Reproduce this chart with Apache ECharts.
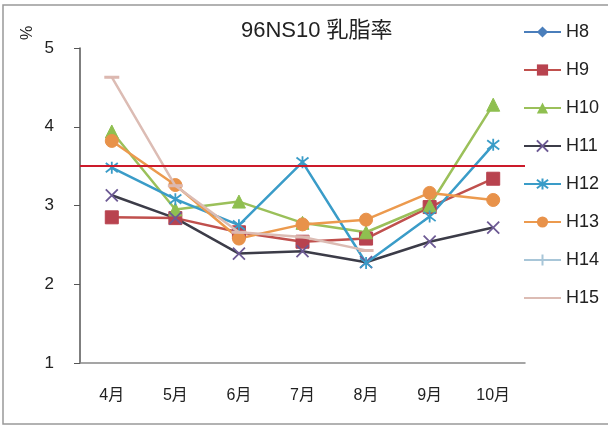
<!DOCTYPE html>
<html><head><meta charset="utf-8">
<script src="https://cdn.jsdelivr.net/npm/echarts@6/dist/echarts.min.js"></script>
<style>html,body{margin:0;padding:0;background:#fff}#c{width:608px;height:430px}</style>
</head><body><div id="c"></div>
<script>
var categories = ['4月','5月','6月','7月','8月','9月','10月'];
var seriesNames = ['H8','H9','H10','H11','H12','H13','H14','H15'];
var H8  = [];
var H9  = [2.85, 2.84, 2.66, 2.54, 2.58, 2.98, 3.34];
var H10 = [3.94, 2.95, 3.05, 2.78, 2.66, 3.00, 4.28];
var H11 = [3.13, 2.84, 2.39, 2.42, 2.28, 2.54, 2.72];
var H12 = [3.48, 3.08, 2.75, 3.55, 2.27, 2.86, 3.77];
var H13 = [3.82, 3.26, 2.58, 2.76, 2.82, 3.16, 3.07];
var H14 = [];
var H15 = [4.63, 3.25, 2.66, 2.60, 2.43, null, null];
var threshold = 3.5;
var yTicks = [1, 2, 3, 4, 5];

var font = '"Liberation Sans","Noto Sans CJK JP",sans-serif';
var X = 'path://M0,0L10,10M10,0L0,10';
var AST = 'path://M0,0L10,10M10,0L0,10M5,-1.5L5,11.5';
var PLUS = 'path://M5,0L5,10M0,5L10,5';
var DASH = 'path://M0,0L10,0L10,2L0,2Z';

function mk(name, data, color, lineColor, symbol, size, stroke) {
  return {
    name: name, type: 'line', data: data,
    symbol: symbol, symbolSize: size, showSymbol: true,
    lineStyle: {color: lineColor, width: 2.5},
    itemStyle: stroke ? {color: 'rgba(0,0,0,0)', borderColor: color, borderWidth: 1.8} : {color: color, borderColor: color},
    z: 3, animation: false
  };
}

var series = [
  mk('H8', H8, '#4a7ebb', '#4a7ebb', 'diamond', 11, false),
  mk('H9', H9, '#b8434f', '#c0504d', 'rect', 13, false),
  mk('H10', H10, '#8fbf50', '#9bc05a', 'triangle', 13, false),
  mk('H11', H11, '#6d5a94', '#3c3c48', X, 12, true),
  mk('H12', H12, '#3a9cc8', '#3a9cc8', AST, 12, true),
  mk('H13', H13, '#e8924a', '#ec9a4e', 'circle', 13, false),
  mk('H14', H14, '#a8c6d8', '#a8c6d8', PLUS, 12, true),
  mk('H15', H15, '#dcb8b0', '#dcbcb4', DASH, [10, 2], false)
];
series[7].z = 4;
series.push({
  name: 'threshold', type: 'line', data: [], silent: true, animation: false,
  markLine: {symbol: 'none', silent: true, label: {show: false}, animation: false,
    lineStyle: {color: '#cc1a2a', width: 2, type: 'solid'},
    data: [{yAxis: threshold}]}
});

var legendData = seriesNames.map(function(n){
  return n === 'H15' ? {name: n, itemStyle: {opacity: 0}} : {name: n};
});

var chart = echarts.init(document.getElementById('c'), null, {renderer: 'canvas', width: 608, height: 430});
chart.setOption({
  animation: false,
  backgroundColor: '#fff',
  title: {text: '96NS10 乳脂率', left: 236, top: 15,
    textStyle: {fontFamily: font, fontSize: 22, fontWeight: 'normal', color: '#222'}},
  grid: {left: 80, top: 48, right: 83, bottom: 67},
  legend: {
    data: legendData, orient: 'vertical', left: 518, top: 18, itemGap: 20,
    itemWidth: 37, itemHeight: 14,
    textStyle: {fontFamily: font, fontSize: 18, color: '#222'}
  },
  xAxis: {
    type: 'category', data: categories, boundaryGap: true,
    axisLine: {lineStyle: {color: '#888', width: 1.5}},
    axisTick: {show: false},
    axisLabel: {fontFamily: font, fontSize: 16, color: '#222', margin: 25}
  },
  yAxis: {
    type: 'value', min: 1, max: 5, interval: 1,
    axisLine: {show: true, lineStyle: {color: '#555', width: 1.5}},
    axisTick: {show: true, inside: false, length: 6, lineStyle: {color: '#555'}},
    splitLine: {show: false},
    axisLabel: {fontFamily: font, fontSize: 17, color: '#222', margin: 26,
      formatter: function(v){ return yTicks.indexOf(v) >= 0 ? String(v) : ''; }}
  },
  graphic: [
    {type: 'rect', shape: {x: 3, y: 5, width: 620, height: 419}, style: {fill: 'none', stroke: '#999', lineWidth: 1.5}, silent: true, z: -1},
    {type: 'text', x: 20, y: 40, rotation: Math.PI/2, style: {text: '%', font: '16px ' + font, fill: '#222'}}
  ],
  series: series
});
</script></body></html>
